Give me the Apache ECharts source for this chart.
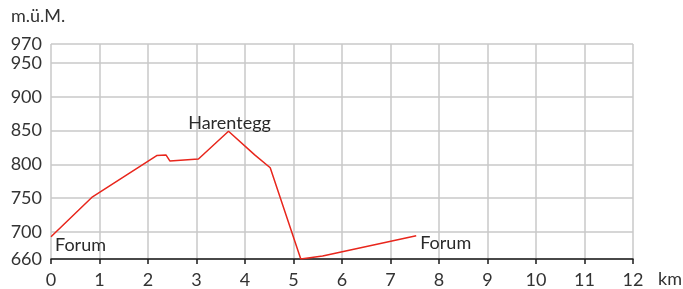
<!DOCTYPE html>
<html>
<head>
<meta charset="utf-8">
<script src="https://cdn.jsdelivr.net/npm/echarts@6/dist/echarts.min.js"></script>
<style>
  html, body { margin: 0; padding: 0; background: #fff; }
  #chart { width: 683px; height: 289px; }
</style>
</head>
<body>
<div id="chart"></div>
<script>
// profile: distance (km) and height (m.ü.M.)
const distanceKm = [0, 0.84, 2.18, 2.37, 2.45, 3.04, 3.66, 4.2, 4.52, 5.15, 5.6, 7.53]
const heightM = [693, 751, 813, 814, 805, 808, 849, 814, 795, 660, 664.5, 694.5]
const yTicks = [660, 700, 750, 800, 850, 900, 950, 978]
const yTopLabel = '970'

// place names sit on profile points
const placeNames = ['Forum', 'Harentegg', 'Forum']
const placeKm = [0, 3.66, 7.53]
const placeM = [693, 849, 694.5]

const fontFamily = 'Lato'
const textColor = '#333'
const fontSize = 18

const chart = echarts.init(document.getElementById('chart'))

const labelPos = [
  { position: 'right', offset: [-1, 8] },
  { position: 'top', offset: [1, 6] },
  { position: 'right', offset: [-1, 8] }
]

chart.setOption({
  animation: false,
  grid: { left: 51, right: 50, top: 44, bottom: 30 },
  xAxis: {
    type: 'value',
    min: 0,
    max: 12,
    interval: 1,
    axisLine: { lineStyle: { color: '#1a1a1a', width: 1.5 } },
    axisTick: { show: true, length: 5, lineStyle: { color: '#1a1a1a', width: 1.5 } },
    axisLabel: { color: textColor, fontSize, fontFamily, margin: 12 },
    splitLine: { show: true, lineStyle: { color: '#c8c8c8', width: 1.5 } }
  },
  yAxis: {
    type: 'value',
    min: 660,
    max: 978,
    axisLine: { show: false },
    axisTick: { show: false, customValues: yTicks },
    axisLabel: {
      customValues: yTicks,
      color: textColor,
      fontSize,
      fontFamily,
      margin: 9,
      formatter: v => (v === 978 ? yTopLabel : String(v))
    },
    splitLine: { show: true, lineStyle: { color: '#c8c8c8', width: 1.5 } }
  },
  graphic: [
    { type: 'text', left: 11, top: 7, style: { text: 'm.ü.M.', fill: textColor, font: fontSize + 'px ' + fontFamily } },
    { type: 'text', left: 658, top: 270, style: { text: 'km', fill: textColor, font: fontSize + 'px ' + fontFamily } }
  ],
  series: [
    {
      type: 'line',
      data: distanceKm.map((d, i) => [d, heightM[i]]),
      symbol: 'none',
      lineStyle: { color: '#e8261c', width: 1.5 },
      z: 3
    },
    {
      type: 'scatter',
      symbolSize: 0,
      silent: true,
      data: placeNames.map((name, i) => ({
        value: [placeKm[i], placeM[i]],
        label: Object.assign({
          show: true,
          formatter: name,
          color: '#2a2a2a',
          opacity: 1,
          fontSize,
          fontFamily
        }, labelPos[i])
      })),
      z: 4
    }
  ]
})
</script>
</body>
</html>
